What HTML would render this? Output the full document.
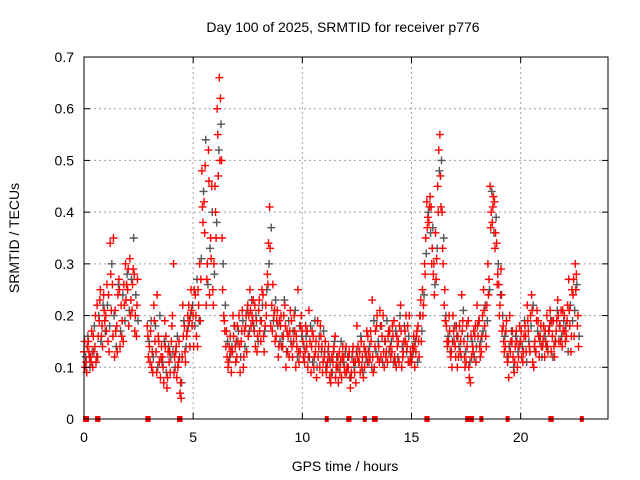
<!DOCTYPE html>
<html><head><meta charset="utf-8"><style>
html,body{margin:0;padding:0;background:#fff;}
svg{display:block;font-family:"Liberation Sans",sans-serif;}
</style></head><body>
<svg id="chart" width="640" height="480" viewBox="0 0 640 480">
<rect width="640" height="480" fill="#fff"/>
<text x="343" y="32" text-anchor="middle" font-size="14">Day 100 of 2025, SRMTID for receiver p776</text>
<text x="0" y="0" transform="translate(19,238) rotate(-90)" text-anchor="middle" font-size="14">SRMTID / TECUs</text>
<text x="345" y="471" text-anchor="middle" font-size="14">GPS time / hours</text>
<g id="grid"></g>
<g id="marks"></g>
<rect x="84" y="57" width="524" height="362" fill="none" stroke="#000" stroke-width="1"/>
<g id="ticks"></g>
</svg>
<script>
const yTicks=[0,0.1,0.2,0.3,0.4,0.5,0.6,0.7];
const yTickLabels=["0","0.1","0.2","0.3","0.4","0.5","0.6","0.7"];
const xTicks=[0,5,10,15,20];
const xTickLabels=["0","5","10","15","20"];
const startHour=0, stepHour=0.1;
const redA=[.13,.11,.15,.12,.10,.14,.22,.19,.16,.24,
.20,.15,.34,.26,.12,.18,.27,.22,.15,.30,
.25,.31,.21,.28,.16,null,null,null,null,.18,
.14,.10,.22,.13,.16,.08,.12,.19,.06,.11,
.15,.30,.13,.10,.05,.12,.18,.16,.22,.25,
.20,.24,.14,.30,.48,.42,.22,.52,.35,.25,
.45,.60,.66,.50,.20,.14,.10,.16,.13,.18,
.12,.20,.15,.10,.18,.22,.25,.20,.17,.19,
.21,.15,.24,.18,.28,.41,.22,.20,.16,.12,
.18,.14,.22,.17,.12,.19,.15,.10,.25,.13,
.17,.11,.14,.21,.09,.16,.13,.19,.10,.14,
.12,.09,.14,.07,.11,.16,.10,.13,.08,.12,
.14,.10,.06,.13,.09,.18,.11,.15,.08,.13,
.16,.12,.23,.10,.18,.14,.12,.20,.15,.11,
.17,.13,.19,.10,.15,.22,.12,.17,.14,.20,
.11,.16,.13,.18,.20,.25,.30,.42,.38,.41,
.28,.36,.45,.55,.40,.22,.18,.15,.12,.20,
.14,.10,.18,.24,.15,.11,.19,.07,.14,.16,
.22,.19,.13,.25,.16,.30,.45,.38,.42,.34,
.26,.29,.18,.14,.11,.20,.15,.09,.17,.12,
.15,.11,.18,.22,.14,.24,.10,.13,.19,.16,
.14,.12,.20,.17,.13,.19,.15,.23,.18,.14,
.20,.16,.27,.13,.24,.30,.18];
const redB=[.10,.14,.12,.17,.13,.11,.16,.25,.14,.19,
.26,.13,.21,.35,.17,.24,.14,.19,.22,.26,
.18,.23,.29,.20,.27,null,null,null,null,.12,
.17,.09,.15,.24,.11,.14,.07,.16,.13,.09,
.20,.12,.08,.15,.04,.16,.11,.20,.14,.18,
.25,.16,.22,.27,.38,.49,.30,.24,.45,.30,
.35,.47,.62,.25,.17,.12,.14,.09,.16,.11,
.15,.09,.21,.17,.13,.20,.18,.23,.14,.16,
.17,.25,.13,.20,.34,.18,.26,.15,.21,.19,
.14,.20,.10,.16,.21,.12,.17,.14,.11,.20,
.12,.18,.10,.15,.17,.12,.08,.14,.16,.11,
.15,.11,.08,.12,.14,.10,.07,.11,.14,.09,
.10,.13,.09,.11,.07,.14,.09,.12,.10,.17,
.11,.15,.09,.17,.12,.21,.16,.10,.13,.17,
.12,.16,.11,.14,.18,.10,.15,.20,.11,.13,
.14,.10,.17,.12,.15,.22,.35,.39,.43,.33,
.24,.31,.52,.41,.30,.19,.14,.17,.10,.15,
.18,.12,.15,.19,.10,.14,.08,.12,.17,.11,
.16,.12,.20,.18,.22,.27,.40,.43,.36,.28,
.22,.17,.13,.19,.08,.15,.12,.14,.10,.18,
.12,.16,.13,.17,.20,.11,.15,.21,.12,.14,
.18,.15,.13,.21,.16,.12,.19,.15,.21,.17,
.15,.22,.18,.25,.16,.28,.14];
const redC=[.15,.09,.13,.11,.16,.20,.12,.23,.18,.21,
.17,.24,.28,.16,.21,.13,.25,.16,.26,.23,
.29,.20,.26,.17,.22,null,null,null,null,.16,
.11,.13,.19,.09,.15,.12,.10,.14,.08,.13,
.18,.09,.14,.11,.07,.22,.13,.17,.19,.21,
.14,.20,.25,.19,.41,.36,.27,.46,.31,.22,
.40,.55,.50,.35,.19,.17,.11,.13,.20,.14,
.18,.14,.17,.12,.20,.16,.21,.19,.22,.13,
.23,.19,.16,.22,.26,.33,.17,.21,.19,.14,
.20,.16,.18,.13,.17,.14,.20,.16,.13,.18,
.15,.13,.17,.12,.14,.10,.15,.12,.18,.09,
.13,.10,.12,.09,.13,.08,.12,.09,.12,.10,
.09,.12,.08,.14,.11,.12,.13,.10,.14,.12,
.13,.17,.12,.14,.20,.11,.18,.13,.12,.16,
.14,.18,.12,.16,.11,.17,.13,.15,.18,.11,
.12,.14,.16,.15,.23,.20,.28,.37,.41,.30,
.30,.27,.40,.47,.33,.25,.15,.20,.13,.17,
.12,.16,.13,.17,.12,.18,.10,.16,.13,.18,
.18,.14,.16,.21,.14,.24,.37,.41,.33,.26,
.20,.24,.15,.17,.12,.13,.17,.11,.15,.14,
.17,.13,.16,.19,.13,.21,.14,.19,.16,.18,
.15,.17,.14,.18,.19,.14,.17,.20,.15,.21,
.17,.19,.21,.16,.27,.25,.20];
const black=[.12,.16,.10,.13,.18,.12,.20,.15,.22,.17,
.22,.18,.30,.20,.14,.26,.17,.24,.19,.28,
.21,.27,.35,.24,.19,null,null,null,null,.15,
.19,.12,.18,.10,.20,.11,.15,.09,.14,.12,
.13,.10,.16,.12,.07,.19,.14,.18,.20,.22,
.18,.27,.19,.31,.44,.54,.26,.33,.40,.28,
.38,.52,.57,.30,.22,.15,.12,.14,.18,.15,
.17,.12,.19,.14,.21,.17,.23,.18,.20,.15,
.19,.22,.17,.25,.30,.37,.19,.23,.18,.15,
.16,.23,.13,.19,.15,.17,.21,.12,.18,.16,
.14,.16,.12,.18,.11,.19,.10,.16,.13,.17,
.10,.13,.11,.09,.15,.12,.10,.15,.11,.13,
.12,.08,.12,.10,.13,.11,.16,.09,.13,.11,
.14,.10,.19,.13,.15,.18,.11,.15,.19,.13,
.15,.11,.17,.12,.20,.14,.18,.13,.16,.12,
.13,.15,.11,.20,.17,.24,.32,.40,.36,.37,
.26,.33,.48,.50,.35,.20,.16,.13,.15,.18,
.16,.14,.12,.21,.13,.16,.11,.15,.12,.14,
.19,.15,.17,.22,.19,.25,.44,.36,.39,.30,
.24,.20,.16,.12,.14,.17,.10,.16,.13,.15,
.14,.19,.11,.15,.18,.22,.13,.17,.15,.12,
.16,.14,.17,.19,.12,.15,.21,.18,.16,.19,
.18,.13,.22,.19,.21,.26,.16];
const zeroHours=[0.05,0.14,0.6,0.66,2.9,2.96,4.35,4.42,11.12,12.1,12.16,12.86,13.28,13.36,15.68,15.74,17.55,17.62,17.7,17.77,18.2,19.4,21.36,21.42,22.8];

const X0=84,X1=608,Y0=419,Y1=57,XMAX=24,YMAX=0.7;
function xs(h){return X0+h/XMAX*(X1-X0);}
function ys(v){return Y0-v/YMAX*(Y0-Y1);}
const NS="http://www.w3.org/2000/svg";
const grid=document.getElementById('grid'),ticks=document.getElementById('ticks'),marks=document.getElementById('marks');
function mk(tag,attrs,parent){const e=document.createElementNS(NS,tag);for(const k in attrs)e.setAttribute(k,attrs[k]);parent.appendChild(e);return e;}
yTicks.forEach((v,i)=>{
  const y=ys(v);
  if(i>0&&i<yTicks.length-1){const g=mk('line',{x1:X0,x2:X1,y1:y,y2:y,stroke:'#a0a0a0','stroke-dasharray':'2,3'},grid);
  
  }
  const t=mk('line',{x1:X0,x2:X0+6,y1:y,y2:y,stroke:'#000'},ticks);
  
  
  const t2=mk('line',{x1:X1-6,x2:X1,y1:y,y2:y,stroke:'#000'},ticks);
  
  
  const l=mk('text',{x:X0-10,y:y+5,'text-anchor':'end','font-size':'14'},ticks);l.textContent=yTickLabels[i];
  
  
});
xTicks.forEach((h,i)=>{
  const x=xs(h);
  if(i>0){const g=mk('line',{x1:x,x2:x,y1:Y0,y2:Y1,stroke:'#a0a0a0','stroke-dasharray':'2,3'},grid);
  
  }
  const t=mk('line',{x1:x,x2:x,y1:Y0,y2:Y0-6,stroke:'#000'},ticks);
  
  
  const t2=mk('line',{x1:x,x2:x,y1:Y1,y2:Y1+6,stroke:'#000'},ticks);
  
  
  const l=mk('text',{x:x,y:Y0+23,'text-anchor':'middle','font-size':'14'},ticks);l.textContent=xTickLabels[i];
  
  
});
function cross(h,v,color,name){
  if(v===null)return;
  const x=xs(h),y=ys(v);
  const p=mk('path',{d:`M${x-4},${y}H${x+4}M${x},${y-4}V${y+4}`,stroke:color,'stroke-width':'1.4',fill:'none'},marks);
  
  
}
black.forEach((v,i)=>cross(startHour+i*stepHour+0.075,v,'#555','point-black'));
redA.forEach((v,i)=>cross(startHour+i*stepHour,v,'#ff0000','point-red'));
redC.forEach((v,i)=>cross(startHour+i*stepHour+0.025,v,'#ff0000','point-red'));
redB.forEach((v,i)=>cross(startHour+i*stepHour+0.05,v,'#ff0000','point-red'));
zeroHours.forEach(h=>{
  const r=mk('rect',{x:xs(h)-2,y:Y0-3,width:4,height:6,fill:'#ff0000'},marks);
  
  
});
</script>
</body></html>
